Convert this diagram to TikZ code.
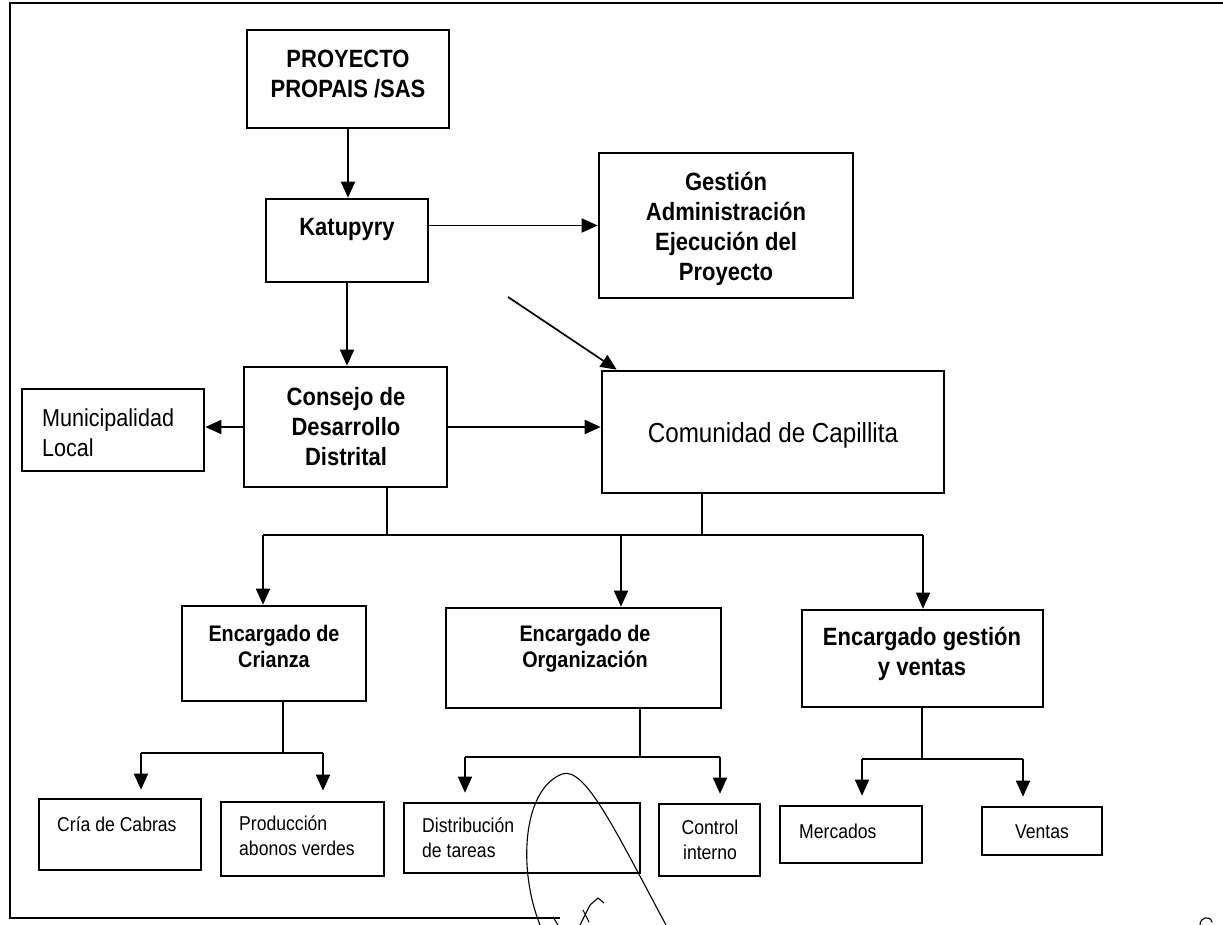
\documentclass[tikz,border=0pt]{standalone}
\usepackage{fontspec}
\setmainfont{Liberation Sans}[FakeStretch=0.88]
\usetikzlibrary{arrows.meta,fit,calc}
\tikzset{
  box/.style={draw, line width=2.6pt, inner sep=0pt, rectangle},
  conn/.style={line width=1.7pt},
  arr/.style={line width=1.7pt, -{Triangle[length=16pt,width=14pt]}},
  bigb/.style={font=\fontsize{25}{30}\selectfont\bfseries, align=center, inner sep=0pt},
  midb/.style={font=\fontsize{22.5}{26}\selectfont\bfseries, align=center, inner sep=0pt},
  bigr/.style={font=\fontsize{24.5}{30}\selectfont, align=left, inner sep=0pt},
  smallr/.style={font=\fontsize{20}{25}\selectfont, inner sep=0pt},
  hand/.style={line width=1.1pt, line cap=round, line join=round},
}
\begin{document}
\begin{tikzpicture}[x=1pt,y=-1pt]
\useasboundingbox (0,0) rectangle (1223,925);
% frame
\draw[line width=2pt] (1223,3) -- (10,3) -- (10,918) -- (560,918);

% boxes
\node[box, fit={(247,30)(449,128)}] (P) {};
\node[box, fit={(266,199)(428,282)}] (K) {};
\node[box, fit={(599,153)(853,298)}] (G) {};
\node[box, fit={(244,367)(447,487)}] (C) {};
\node[box, fit={(22,389)(204,471)}] (M) {};
\node[box, fit={(602,371)(944,493)}] (Com) {};
\node[box, fit={(182,606)(366,701)}] (Cr) {};
\node[box, fit={(446,608)(721,708)}] (Org) {};
\node[box, fit={(802,610)(1043,707)}] (GV) {};
\node[box, fit={(39,799)(201,870)}] (Cab) {};
\node[box, fit={(221,802)(384,876)}] (Prod) {};
\node[box, fit={(404,803)(640,873)}] (Dist) {};
\node[box, fit={(659,804)(760,876)}] (Ctrl) {};
\node[box, fit={(780,806)(922,863)}] (Merc) {};
\node[box, fit={(982,807)(1102,855)}] (Vent) {};

% texts
\node[bigb] (Pt) at (348,74) {PROYECTO\\PROPAIS /SAS};
\node[bigb] (Kt) at (347,229) {Katupyry};
\node[bigb] (Gt) at (726,229) {Gestión\\Administración\\Ejecución del\\Proyecto};
\node[bigb] (Ct) at (346,427) {Consejo de\\Desarrollo\\Distrital};
\node[bigr, anchor=west] (Mt) at (42,433) {Municipalidad\\Local};
\node[font=\fontsize{27.5}{30}\selectfont, inner sep=0pt] (Comt) at (773,435) {Comunidad de Capillita};
\node[midb] (Crt) at (274,646) {Encargado de\\Crianza};
\node[midb] (Orgt) at (585,649) {Encargado de\\Organización};
\node[bigb] (GVt) at (922,654) {Encargado gestión\\y ventas};
\node[smallr, anchor=west] (Cabt) at (57,824) {Cría de Cabras};
\node[smallr, anchor=west, align=left] (Prodt) at (239,836) {Producción\\abonos verdes};
\node[smallr, anchor=west, align=left] (Distt) at (422,838) {Distribución\\de tareas};
\node[smallr, align=center] (Ctrlt) at (710,840) {Control\\interno};
\node[smallr, anchor=west] (Merct) at (799,831) {Mercados};
\node[smallr] (Ventt) at (1042,832) {Ventas};

% top connectors
\draw[arr] (P.south) -- (P.south |- K.north);
\draw[arr] (K.east |- G.west) -- (G.west);
\draw[arr] (K.south) -- (K.south |- C.north);
\coordinate (dstart) at (508,297);
\draw[arr] (dstart) -- ($(Com.north west)+(16,0)$);
\draw[arr] (C.west) -- (C.west -| M.east);
\draw[arr] (C.east) -- (C.east -| Com.west);

% middle bus
\coordinate (bus1) at (387,535);
\coordinate (bus2) at (702,535);
\coordinate (a1) at (263,535);
\coordinate (a2) at (621,535);
\coordinate (a3) at (923,535);
\draw[conn] (C.south -| bus1) -- (bus1);
\draw[conn] (Com.south -| bus2) -- (bus2);
\draw[conn] (a1) -- (a3);
\draw[arr] (a1) -- (a1 |- Cr.north);
\draw[arr] (a2) -- (a2 |- Org.north);
\draw[arr] (a3) -- (a3 |- GV.north);

% Crianza bus
\coordinate (b0) at (283,753);
\coordinate (b1) at (141,753);
\coordinate (b2) at (323,753);
\draw[conn] (Cr.south -| b0) -- (b0);
\draw[conn] (b1) -- (b2);
\draw[arr] (b1) -- ($(b1 |- Cab.north)+(0,-8)$);
\draw[arr] (b2) -- ($(b2 |- Prod.north)+(0,-10)$);

% Organizacion bus
\coordinate (c0) at (640,757);
\coordinate (c1) at (465,757);
\coordinate (c2) at (720,757);
\draw[conn] (Org.south -| c0) -- (c0);
\draw[conn] (c1) -- (c2);
\draw[arr] (c1) -- ($(c1 |- Dist.north)+(0,-9)$);
\draw[arr] (c2) -- ($(c2 |- Ctrl.north)+(0,-9)$);

% Gestion y ventas bus
\coordinate (d0) at (922,759);
\coordinate (d1) at (862,759);
\coordinate (d2) at (1023,759);
\draw[conn] (GV.south -| d0) -- (d0);
\draw[conn] (d1) -- (d2);
\draw[arr] (d1) -- ($(d1 |- Merc.north)+(0,-9)$);
\draw[arr] (d2) -- ($(d2 |- Vent.north)+(0,-9)$);

% handwritten marks
\draw[hand] (540,925) .. controls (518,870) and (522,790) .. (562,774)
             .. controls (585,766) and (615,830) .. (666,925);
\draw[hand] (553,917) -- (558,925);
\draw[hand] (580,925) -- (590,905) -- (598,898) -- (604,903);
\draw[hand] (583,910) -- (589,922);
\draw[hand] (1200,925) .. controls (1200,917) and (1210,915) .. (1212,922);
\end{tikzpicture}
\end{document}
